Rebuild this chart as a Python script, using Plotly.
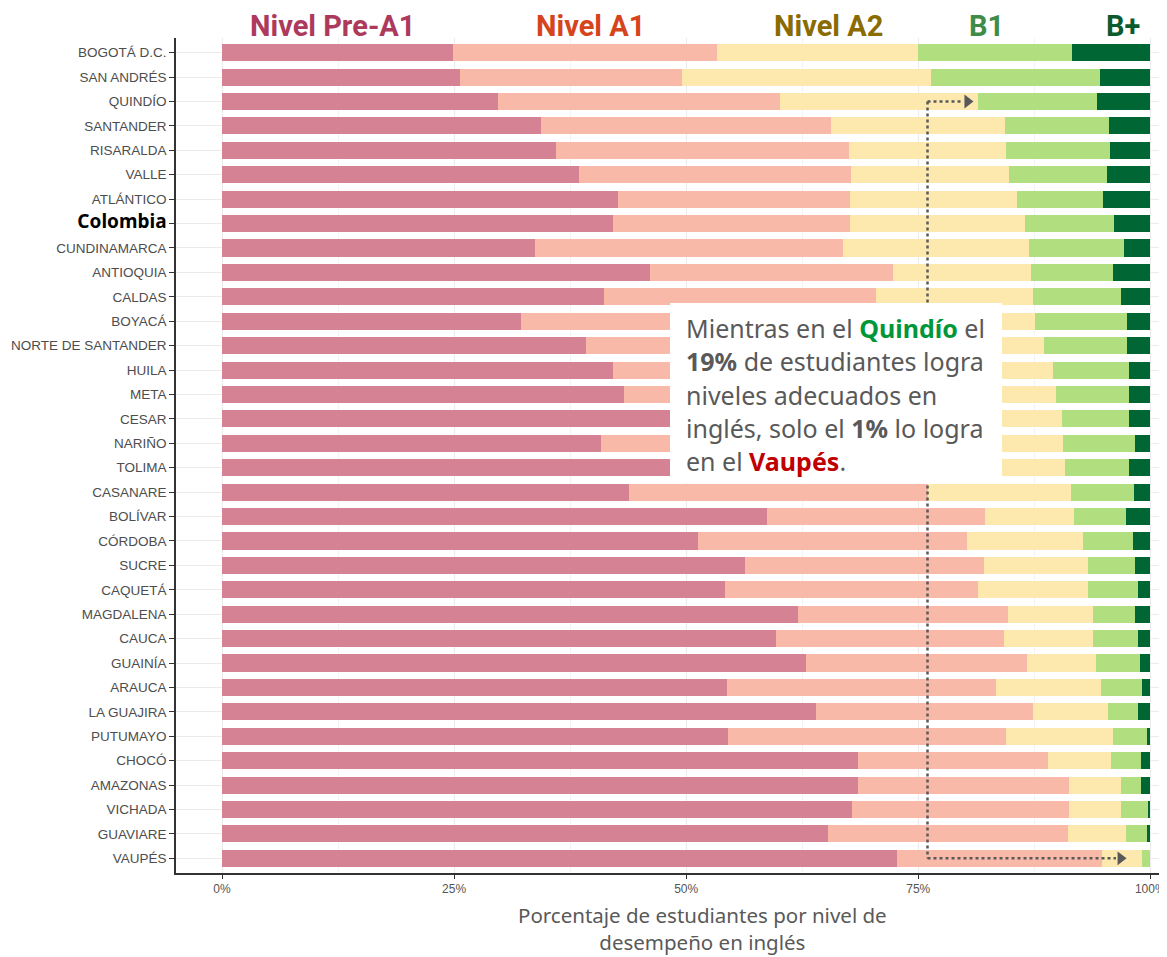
import plotly.graph_objects as go

regions = ["BOGOTÁ D.C.", "SAN ANDRÉS", "QUINDÍO", "SANTANDER", "RISARALDA", "VALLE",
           "ATLÁNTICO", "Colombia", "CUNDINAMARCA", "ANTIOQUIA", "CALDAS", "BOYACÁ",
           "NORTE DE SANTANDER", "HUILA", "META", "CESAR", "NARIÑO", "TOLIMA", "CASANARE",
           "BOLÍVAR", "CÓRDOBA", "SUCRE", "CAQUETÁ", "MAGDALENA", "CAUCA", "GUAINÍA",
           "ARAUCA", "LA GUAJIRA", "PUTUMAYO", "CHOCÓ", "AMAZONAS", "VICHADA", "GUAVIARE", "VAUPÉS"]

pre_a1 = [24.9, 25.6, 29.7, 34.4, 36.0, 38.5, 42.7, 42.1, 33.7, 46.1, 41.1, 32.2, 39.2, 42.1,
          43.3, 50.0, 40.8, 49.0, 43.8, 58.7, 51.3, 56.3, 54.2, 62.1, 59.7, 62.9, 54.4, 64.0,
          54.5, 68.5, 68.5, 67.9, 65.3, 72.7]
a1 = [28.4, 24.0, 30.4, 31.2, 31.5, 29.3, 24.9, 25.6, 33.2, 26.2, 29.4, 37.8, 33.8, 32.9,
      31.7, 27.0, 34.2, 28.0, 32.3, 23.5, 28.9, 25.8, 27.2, 22.6, 24.5, 23.8, 29.0, 23.4,
      30.0, 20.5, 22.7, 23.3, 25.8, 22.1]
a2 = [21.7, 26.8, 21.3, 18.8, 17.0, 17.0, 18.0, 18.8, 20.0, 14.9, 16.9, 17.6, 15.5, 14.5,
      14.8, 13.5, 15.6, 13.8, 15.4, 9.6, 12.5, 11.2, 11.9, 9.1, 9.6, 7.4, 11.3, 8.0,
      11.5, 6.8, 5.6, 5.6, 6.3, 4.3]
b1 = [16.6, 18.2, 12.9, 11.1, 11.2, 10.5, 9.3, 9.6, 10.3, 8.8, 9.4, 9.9, 9.0, 8.2,
      7.9, 7.2, 7.7, 6.9, 6.7, 5.6, 5.4, 5.0, 5.4, 4.5, 4.9, 4.8, 4.4, 3.3,
      3.6, 3.2, 2.2, 2.9, 2.2, 0.9]
b_plus = [8.4, 5.4, 5.7, 4.5, 4.3, 4.7, 5.1, 3.9, 2.8, 4.0, 3.2, 2.5, 2.5, 2.3,
          2.3, 2.3, 1.7, 2.3, 1.8, 2.6, 1.9, 1.7, 1.3, 1.7, 1.3, 1.1, 0.9, 1.3,
          0.4, 1.0, 1.0, 0.3, 0.4, 0.0]

levels = ["Nivel Pre-A1", "Nivel A1", "Nivel A2", "B1", "B+"]
series = [pre_a1, a1, a2, b1, b_plus]
bar_colors = ["#D48294", "#F9B9A8", "#FDE9AE", "#B1DE7E", "#006633"]
label_colors = ["#AD3A5C", "#D6441B", "#8A6B00", "#3E8C48", "#0B5A2E"]
label_x = [11.9, 39.7, 65.3, 82.4, 97.1]
x_ticks = [0, 25, 50, 75, 100]
x_tick_labels = ["0%", "25%", "50%", "75%", "100%"]

arrow_x = 76.0
quindio_target = 80.3
vaupes_target = 96.8

fig = go.Figure()
for name, vals, col in zip(levels, series, bar_colors):
    fig.add_trace(go.Bar(y=regions, x=vals, orientation="h", name=name,
                         marker=dict(color=col, line=dict(width=0)), showlegend=False))

# arrow heads
fig.add_trace(go.Scatter(x=[quindio_target, vaupes_target], y=["QUINDÍO", "VAUPÉS"],
                         mode="markers", marker=dict(symbol="triangle-right", size=12, color="#595959"),
                         showlegend=False, hoverinfo="skip"))

ticktext = ["<b><span style='color:black;font-size:19px;font-family:Noto Sans'>Colombia</span></b>"
            if r == "Colombia" else r for r in regions]

n = len(regions)
# page body has an 8px margin: figure placed at (8, 8) in the page
fig.update_layout(
    width=1159, height=949,
    margin=dict(l=168, r=0, t=30, b=84, autoexpand=False),
    paper_bgcolor="white", plot_bgcolor="white",
    barmode="stack", bargap=0.3,
    font=dict(family="Liberation Sans, Arial", color="#4D4D4D"),
    xaxis=dict(range=[-4.96, 101.8], tickvals=x_ticks, ticktext=x_tick_labels,
               tickfont=dict(size=12, color="#555555"),
               showgrid=True, gridcolor="#EBEBEB", gridwidth=1,
               minor=dict(tickvals=[12.5, 37.5, 62.5, 87.5], showgrid=True, gridcolor="#F3F3F3", gridwidth=1),
               ticks="outside", ticklen=4, tickcolor="#333333",
               showline=True, linecolor="#333333", linewidth=1.5, zeroline=False, automargin=False),
    yaxis=dict(type="category", categoryarray=regions, range=[n - 1 + 0.6, -0.6],
               tickvals=regions, ticktext=ticktext, tickfont=dict(size=13.5, color="#4D4D4D"),
               showgrid=True, gridcolor="#EBEBEB", gridwidth=1,
               ticks="outside", ticklen=5, tickcolor="#333333",
               showline=True, linecolor="#333333", linewidth=1.5, zeroline=False, automargin=False),
)

def px(xp):
    return (xp - 176) / 991.0

def py(yp):
    return (873 - yp) / 835.0

# header labels
for lab, lx, lc in zip(levels, label_x, label_colors):
    fig.add_annotation(x=lx, y=py(26), xref="x", yref="paper", yanchor="middle",
                       text="<b>%s</b>" % lab, showarrow=False,
                       font=dict(family="Roboto", size=29, color=lc))

# x-axis title (two lines)
fig.add_annotation(x=px(702), y=py(928), xref="paper", yref="paper",
                   yanchor="middle", text="Porcentaje de estudiantes por nivel de<br>desempeño en inglés",
                   showarrow=False, font=dict(family="Noto Sans", size=20.5, color="#595959"))

# dotted connector lines
line_style = dict(color="#595959", width=2.5, dash="dot")
fig.add_shape(type="line", x0=arrow_x, x1=arrow_x, y0="QUINDÍO", y1="VAUPÉS", xref="x", yref="y", line=line_style, layer="above")
fig.add_shape(type="line", x0=arrow_x, x1=quindio_target - 0.5, y0="QUINDÍO", y1="QUINDÍO", xref="x", yref="y", line=line_style, layer="above")
fig.add_shape(type="line", x0=arrow_x, x1=vaupes_target - 0.5, y0="VAUPÉS", y1="VAUPÉS", xref="x", yref="y", line=line_style, layer="above")

# annotation box
fig.add_shape(type="rect", xref="paper", yref="paper", x0=px(670), x1=px(1002), y0=py(483), y1=py(303),
              fillcolor="white", line=dict(width=0), layer="above")

lines = [
    "Mientras en el <b><span style='color:#00973A'>Quindío</span></b> el",
    "<b>19%</b> de estudiantes logra",
    "niveles adecuados en",
    "inglés, solo el <b>1%</b> lo logra",
    "en el <b><span style='color:#C00000'>Vaupés</span></b>.",
]
for i, t in enumerate(lines):
    fig.add_annotation(x=px(684), y=py(328 + i * 33.3), xref="paper", yref="paper",
                       xanchor="left", yanchor="middle", height=32, text=t, showarrow=False,
                       font=dict(family="Noto Sans", size=25, color="#595959"))

fig.write_html("out.html")
